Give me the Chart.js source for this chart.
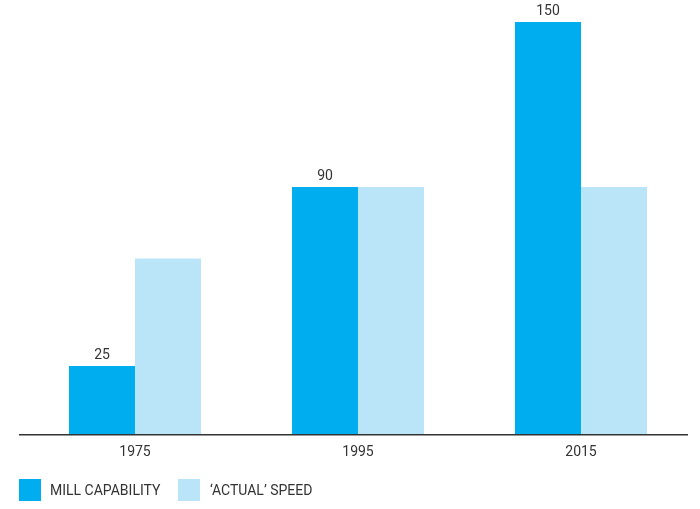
<!DOCTYPE html>
<html>
<head>
<meta charset="utf-8">
<script src="https://cdn.jsdelivr.net/npm/chart.js@4"></script>
<style>
    body { margin: 0; background: #fff; }
    #wrap { position: relative; width: 700px; height: 509px; }
    #legend { position: absolute; left: 19px; top: 479px; font: 14px Roboto, sans-serif; color: #333; }
    #legend span.box { position: absolute; top: 0; width: 22px; height: 22px; }
    #legend span.txt { position: absolute; top: 2px; white-space: nowrap; line-height: 18px; }
</style>
</head>
<body>
<div id="wrap">
    <canvas id="chart1" width="700" height="509"></canvas>
    <div id="legend">
        <span class="box" style="left:0; background:#00aeef"></span>
        <span class="txt" style="left:31px">MILL CAPABILITY</span>
        <span class="box" style="left:159px; background:#bae5f9"></span>
        <span class="txt" style="left:191px">‘ACTUAL’ SPEED</span>
    </div>
</div>
<script>
    const years = ['1975', '1995', '2015']
    const millCapability = [25, 90, 150]
    const actualSpeed = [64, 90, 90]

    const ctx1 = document.getElementById('chart1')

    // value labels above the dark bars
    const valueLabels = {
        id: 'valueLabels',
        afterDatasetsDraw(chart) {
            const c = chart.ctx
            const meta = chart.getDatasetMeta(0)
            c.save()
            c.font = '14px Roboto'
            c.fillStyle = '#333'
            c.textAlign = 'center'
            c.textBaseline = 'alphabetic'
            meta.data.forEach((bar, i) => {
                c.fillText(millCapability[i], bar.x, bar.y - 7)
            })
            c.restore()
        }
    }

    // baseline, a little wider on the left than the plot area
    const baseLine = {
        id: 'baseLine',
        afterDatasetsDraw(chart) {
            const c = chart.ctx
            const a = chart.chartArea
            c.save()
            c.strokeStyle = '#333'
            c.lineWidth = 1.5
            c.beginPath()
            c.moveTo(a.left - 4.5, a.bottom)
            c.lineTo(a.right - 4.5, a.bottom)
            c.stroke()
            c.restore()
        }
    }

    new Chart(ctx1, {
        type: 'bar',
        data: {
            labels: years,
            datasets: [{
                label: 'MILL CAPABILITY',
                data: millCapability,
                backgroundColor: '#00aeef'
            }, {
                label: '‘ACTUAL’ SPEED',
                data: actualSpeed,
                backgroundColor: '#bae5f9'
            }]
        },
        options: {
            responsive: false,
            animation: false,
            layout: {
                padding: { left: 23.5, right: 7.5, top: 22, bottom: 47.5 }
            },
            categoryPercentage: 0.592,
            barPercentage: 1,
            plugins: {
                legend: { display: false },
                tooltip: { enabled: false }
            },
            scales: {
                x: {
                    grid: { display: false },
                    border: { display: false },
                    ticks: {
                        color: '#333',
                        font: { family: 'Roboto', size: 14 },
                        padding: 1
                    }
                },
                y: {
                    display: false,
                    min: 0,
                    max: 150
                }
            }
        },
        plugins: [valueLabels, baseLine]
    })
</script>
</body>
</html>
